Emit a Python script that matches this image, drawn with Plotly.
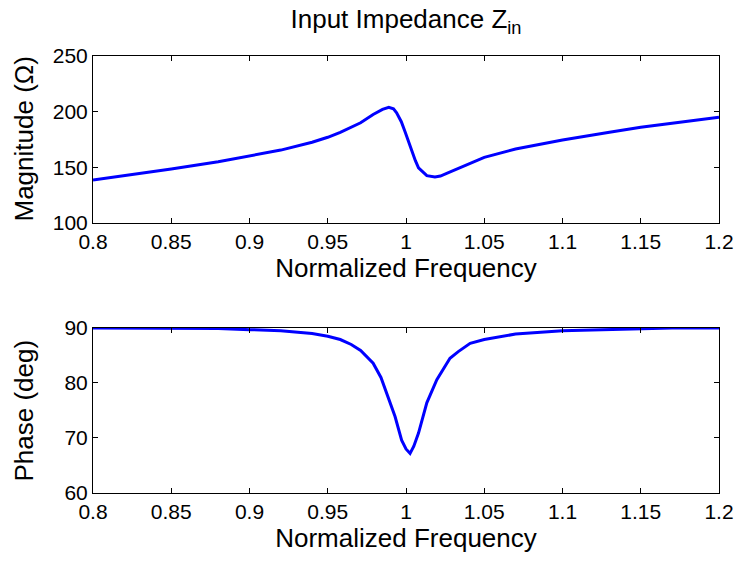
import plotly.graph_objects as go
from plotly.subplots import make_subplots

# Magnitude data
mag_freq = [0.80, 0.82, 0.85, 0.88, 0.90, 0.92, 0.94, 0.95, 0.958, 0.965, 0.971, 0.979,
            0.985, 0.989, 0.992, 0.994, 0.997, 0.9994, 1.002, 1.0037, 1.006, 1.008, 1.011,
            1.0133, 1.0185, 1.022, 1.026, 1.0334, 1.04, 1.05, 1.07, 1.10, 1.13, 1.15, 1.18, 1.20]
mag_vals = [138.6, 142.5, 148.5, 155.0, 160.0, 165.5, 172.5, 177.0, 181.5, 186.0, 190.0, 197.5,
            202.0, 204.0, 202.5, 199.0, 191.0, 182.0, 171.0, 164.0, 156.0, 149.5, 145.0,
            142.5, 141.3, 142.2, 144.5, 149.0, 153.5, 159.0, 166.5, 174.6, 181.5, 186.0, 191.5, 195.0]

# Phase data
ph_freq = [0.80, 0.85, 0.88, 0.90, 0.92, 0.94, 0.95, 0.958, 0.965, 0.971, 0.979, 0.984,
           0.9876, 0.993, 0.9972, 1.0, 1.0026, 1.005, 1.008, 1.0133, 1.0197, 1.0281, 1.0334,
           1.041, 1.05, 1.07, 1.10, 1.15, 1.17, 1.20]
ph_vals = [90.0, 90.0, 89.9, 89.7, 89.5, 89.0, 88.5, 87.9, 87.0, 85.9, 83.6, 81.0,
           78.1, 73.9, 69.6, 68.0, 67.2, 68.5, 70.9, 76.4, 80.6, 84.5, 85.7,
           87.2, 87.9, 88.9, 89.5, 89.8, 90.0, 90.0]

x_ticks = [0.8, 0.85, 0.9, 0.95, 1.0, 1.05, 1.1, 1.15, 1.2]
x_ticklabels = ["0.8", "0.85", "0.9", "0.95", "1", "1.05", "1.1", "1.15", "1.2"]
mag_ticks = [100, 150, 200, 250]
ph_ticks = [60, 70, 80, 90]

FONT = "Liberation Sans, Arial, sans-serif"
TOP_DOMAIN = [0.6178, 1.0]
BOT_DOMAIN = [0.0, 0.3776]

fig = make_subplots(rows=2, cols=1, vertical_spacing=0.0)
fig.add_trace(go.Scatter(x=mag_freq, y=mag_vals, mode="lines",
                         line=dict(color="#0000FF", width=3), showlegend=False), row=1, col=1)
fig.add_trace(go.Scatter(x=ph_freq, y=ph_vals, mode="lines",
                         line=dict(color="#0000FF", width=3), showlegend=False), row=2, col=1)

axis_common = dict(showline=True, linecolor="black", linewidth=1, mirror="ticks",
                   ticks="inside", ticklen=5, tickcolor="black", tickwidth=1,
                   showgrid=False, zeroline=False, automargin=False,
                   tickfont=dict(family=FONT, size=21, color="black"))

fig.update_xaxes(**axis_common, range=[0.8, 1.2], tickvals=x_ticks, ticktext=x_ticklabels,
                 title=dict(text="Normalized Frequency", font=dict(family=FONT, size=26, color="black"),
                            standoff=4))
fig.update_yaxes(**axis_common)
fig.update_yaxes(range=[100, 250], tickvals=mag_ticks, row=1, col=1)
fig.update_yaxes(range=[60, 90], tickvals=ph_ticks, row=2, col=1)

ytitles = [("Magnitude (Ω)", TOP_DOMAIN), ("Phase (deg)", BOT_DOMAIN)]
for txt, dom in ytitles:
    fig.add_annotation(text=txt, xref="paper", yref="paper", x=0, y=(dom[0] + dom[1]) / 2,
                       xanchor="center", yanchor="middle", xshift=-69, textangle=-90,
                       showarrow=False, font=dict(family=FONT, size=26, color="black"))

fig.update_layout(
    width=737, height=563,
    margin=dict(l=93, r=18, t=56, b=70),
    plot_bgcolor="white", paper_bgcolor="white",
    xaxis=dict(domain=[0, 1]),
    yaxis=dict(domain=TOP_DOMAIN),
    yaxis2=dict(domain=BOT_DOMAIN),
    title=dict(text="Input Impedance Z<sub>in</sub>", x=0.5, xref="paper", xanchor="center",
               y=0.966, yref="container", yanchor="middle",
               font=dict(family=FONT, size=26, color="black")),
)

fig.write_html("out.html")
